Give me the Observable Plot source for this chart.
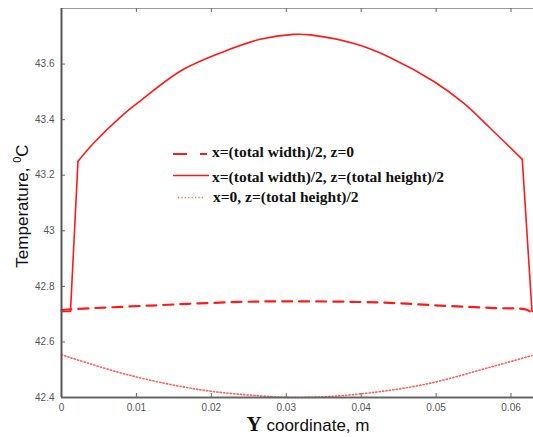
<!DOCTYPE html>
<html><head><meta charset="utf-8">
<script src="https://cdn.jsdelivr.net/npm/d3@7"></script>
<script src="https://cdn.jsdelivr.net/npm/@observablehq/plot@0.6"></script>
<style>body{margin:0;background:#fff}</style>
</head><body><div id="chart"></div>
<script>
const xTicks = [0, 0.01, 0.02, 0.03, 0.04, 0.05, 0.06];
const xTickLabels = ["0", "0.01", "0.02", "0.03", "0.04", "0.05", "0.06"];
const yTicks = [42.4, 42.6, 42.8, 43, 43.2, 43.4, 43.6];
const yTickLabels = ["42.4", "42.6", "42.8", "43", "43.2", "43.4", "43.6"];

const seriesNames = ["x=(total width)/2, z=0", "x=(total width)/2, z=(total height)/2", "x=0, z=(total height)/2"];

const solidX = [0, 0.0012, 0.0022, 0.0043, 0.0079, 0.0105, 0.0159, 0.0212, 0.0265, 0.031, 0.0332, 0.0394, 0.0439, 0.0496, 0.0536, 0.0572, 0.0615, 0.0628, 0.063];
const solidY = [42.71, 42.71, 43.25, 43.316, 43.41, 43.467, 43.575, 43.64, 43.689, 43.707, 43.705, 43.671, 43.623, 43.539, 43.461, 43.37, 43.257, 42.71, 42.71];

const dashedX = [0, 0.0016, 0.0119, 0.0239, 0.031, 0.0425, 0.0505, 0.0576, 0.0621, 0.0628];
const dashedY = [42.715, 42.718, 42.731, 42.744, 42.746, 42.742, 42.731, 42.722, 42.716, 42.704];

const dottedX = [0, 0.0088, 0.0185, 0.0265, 0.0319, 0.0399, 0.0488, 0.0576, 0.0628];
const dottedY = [42.554, 42.482, 42.428, 42.406, 42.40, 42.413, 42.449, 42.512, 42.551];

const solid = solidX.map((x, i) => ({x, y: solidY[i]}));
const solidLeft = solid.slice(0, 3);
const solidMid = solid.slice(2, 17);
const solidRight = solid.slice(16);
const dashed = dashedX.map((x, i) => ({x, y: dashedY[i]}));
const dotted = dottedX.map((x, i) => ({x, y: dottedY[i]}));

const W = 533, H = 437, mL = 61, mR = 0, mT = 8, mB = 40;
const red = "#ff1a1a";

const chart = Plot.plot({
  width: W, height: H,
  marginLeft: mL, marginRight: mR, marginTop: mT, marginBottom: mB,
  style: {fontFamily: "'Liberation Sans', Arial, sans-serif", background: "#fff"},
  x: {domain: [0, 0.063]},
  y: {domain: [42.4, 43.8]},
  marks: [
    Plot.ruleY([43.8], {stroke: "#999", strokeWidth: 1}),
    Plot.tickX(xTicks, {x: d => d, insetBottom: (H - mT - mB) - 4, stroke: "#666"}),
    Plot.tickX(xTicks, {x: d => d, insetTop: (H - mT - mB) - 4, stroke: "#666"}),
    Plot.tickY(yTicks, {y: d => d, insetRight: (W - mL - mR) - 4, stroke: "#666"}),
    Plot.line(dotted, {x: "x", y: "y", stroke: red, strokeWidth: 1.6, strokeDasharray: "1.2,2.2", strokeOpacity: 0.7, curve: "catmull-rom"}),
    Plot.line(dashed, {x: "x", y: "y", stroke: red, strokeWidth: 2.2, strokeDasharray: "10,7", curve: "catmull-rom"}),
    Plot.line(solidLeft, {x: "x", y: "y", stroke: red, strokeWidth: 1.6}),
    Plot.line(solidMid, {x: "x", y: "y", stroke: red, strokeWidth: 1.6, curve: "catmull-rom"}),
    Plot.line(solidRight, {x: "x", y: "y", stroke: red, strokeWidth: 1.6}),
    Plot.ruleX([0], {stroke: "#555", strokeWidth: 2}),
    Plot.ruleY([42.4], {stroke: "#666", strokeWidth: 2.2}),
    Plot.axisX({ticks: xTicks, tickSize: 0, tickPadding: 6, fontSize: 10, fill: "#555", label: null,
      tickFormat: d => xTickLabels[xTicks.indexOf(d)]}),
    Plot.axisY({ticks: yTicks, tickSize: 0, tickPadding: 7, fontSize: 10, fill: "#555", label: null,
      tickFormat: d => yTickLabels[yTicks.findIndex(t => Math.abs(t - d) < 1e-9)]})
  ]
});

document.getElementById("chart").appendChild(chart);
const svg = d3.select(chart);

// Y axis title
const yt = svg.append("text")
  .attr("transform", "translate(28,206) rotate(-90)")
  .attr("text-anchor", "middle")
  .style("font-family", "'Liberation Sans', Arial, sans-serif")
  .style("font-size", "17px").attr("fill", "#111");
yt.append("tspan").text("Temperature, ");
yt.append("tspan").attr("dy", -7).style("font-size", "11px").text("0");
yt.append("tspan").attr("dy", 7).text("C");

// X axis title
const xt = svg.append("text")
  .attr("x", 308).attr("y", 431)
  .attr("text-anchor", "middle")
  .attr("fill", "#111");
xt.append("tspan").style("font-family", "'Liberation Serif', 'Times New Roman', serif").style("font-weight", "bold").style("font-size", "21px").text("Y");
xt.append("tspan").style("font-family", "'Liberation Sans', Arial, sans-serif").style("font-size", "17px").text(" coordinate, m");

// Legend
const leg = [
  {y: 154, ty: 152, dash: "14,13", w: 2.2, x1: 173, x2: 207, op: 1, tx: 212},
  {y: 175.5, ty: 176.5, dash: null, w: 1.6, x1: 173, x2: 209, op: 1, tx: 212},
  {y: 197.5, ty: 196.5, dash: "1.2,2.2", w: 1.6, x1: 178, x2: 203, op: 0.7, tx: 213}
];
leg.forEach((l, i) => {
  const ln = svg.append("line").attr("x1", l.x1).attr("x2", l.x2).attr("y1", l.y).attr("y2", l.y)
    .attr("stroke", red).attr("stroke-width", l.w).attr("stroke-opacity", l.op);
  if (l.dash) ln.attr("stroke-dasharray", l.dash);
  svg.append("text").attr("x", l.tx).attr("y", l.ty + 5)
    .attr("text-anchor", "start")
    .style("font-family", "'Liberation Serif', 'Times New Roman', serif")
    .style("font-weight", "bold").style("font-size", "15.5px").attr("fill", "#111")
    .text(seriesNames[i]);
});
</script>
</body></html>
